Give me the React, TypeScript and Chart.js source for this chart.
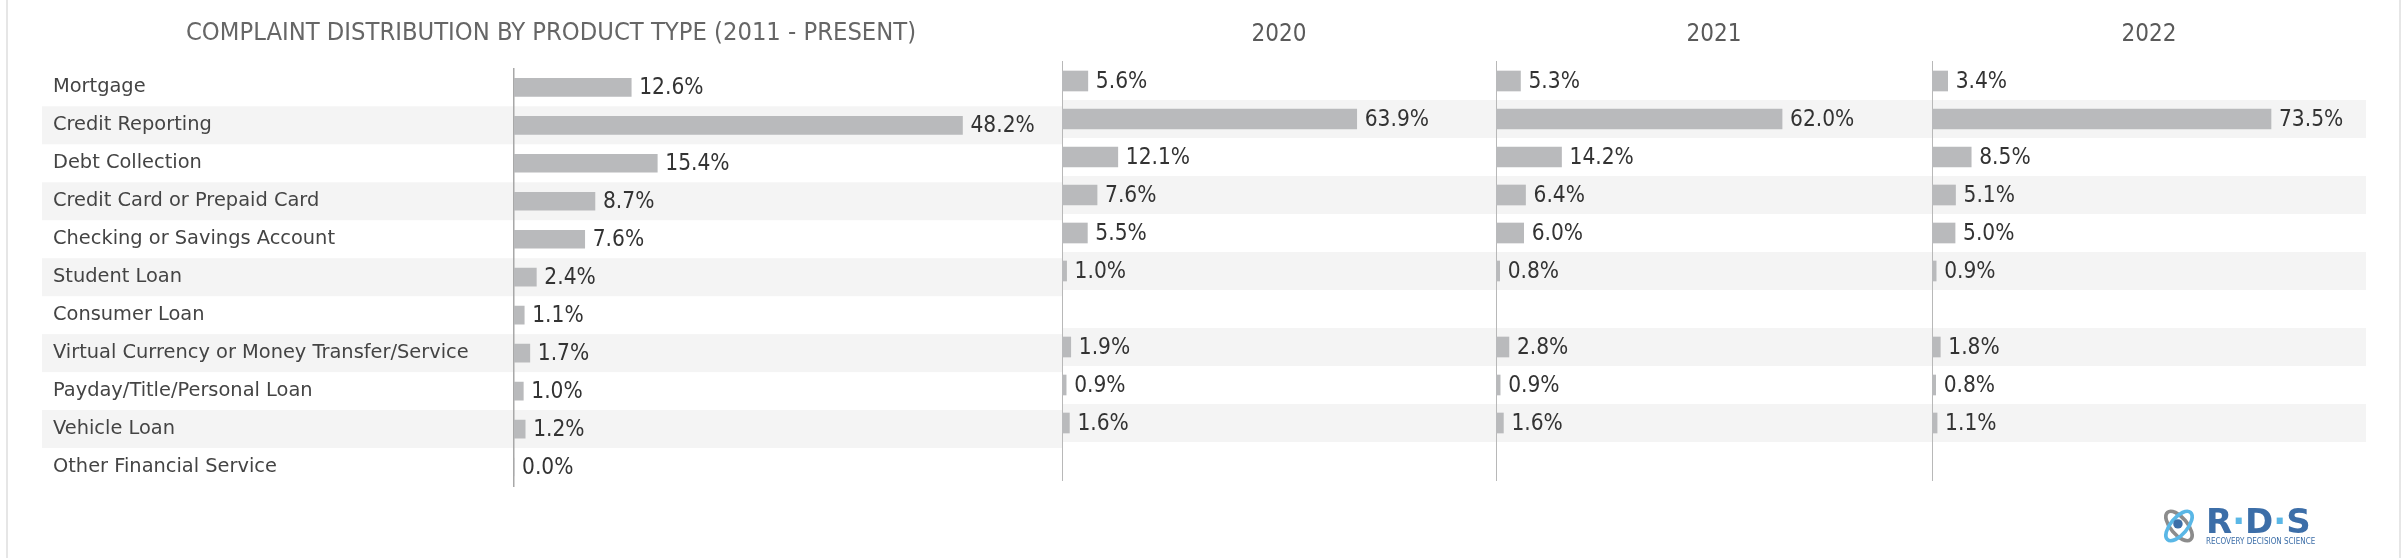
import React, { useEffect, useRef } from "react";
import { Chart, registerables } from "chart.js";

Chart.register(...registerables);

// ---------------- data ----------------
const categories = [
  "Mortgage",
  "Credit Reporting",
  "Debt Collection",
  "Credit Card or Prepaid Card",
  "Checking or Savings Account",
  "Student Loan",
  "Consumer Loan",
  "Virtual Currency or Money Transfer/Service",
  "Payday/Title/Personal Loan",
  "Vehicle Loan",
  "Other Financial Service",
];
const panelTitles = ["COMPLAINT DISTRIBUTION BY PRODUCT TYPE (2011 - PRESENT)", "2020", "2021", "2022"];
const valuesAll: (number | null)[] = [12.6, 48.2, 15.4, 8.7, 7.6, 2.4, 1.1, 1.7, 1.0, 1.2, 0.0];
const values2020: (number | null)[] = [5.6, 63.9, 12.1, 7.6, 5.5, 1.0, null, 1.9, 0.9, 1.6, null];
const values2021: (number | null)[] = [5.3, 62.0, 14.2, 6.4, 6.0, 0.8, null, 2.8, 0.9, 1.6, null];
const values2022: (number | null)[] = [3.4, 73.5, 8.5, 5.1, 5.0, 0.9, null, 1.8, 0.8, 1.1, null];

// ---------------- styling / layout ----------------
const FONT = "'DejaVu Sans Condensed', 'DejaVu Sans', sans-serif";
const LABEL_FONT = "'DejaVu Sans', sans-serif";
const BAR_COLOR = "#b9babc";
const STRIPE_COLOR = "#f4f4f4";

type Spec = {
  title: string;
  data: (number | null)[];
  left: number;
  width: number;
  xMax: number;
  first: boolean;
};

const specs: Spec[] = [
  { title: panelTitles[0], data: valuesAll, left: 40, width: 1022, xMax: 57.5, first: true },
  { title: panelTitles[1], data: values2020, left: 1062, width: 434, xMax: 94.1, first: false },
  { title: panelTitles[2], data: values2021, left: 1496, width: 436, xMax: 94.5, first: false },
  { title: panelTitles[3], data: values2022, left: 1932, width: 434, xMax: 94.1, first: false },
];

const stripePlugin = {
  id: "stripes",
  beforeDraw(chart: any, _args: any, opts: any) {
    const { ctx, chartArea, scales } = chart;
    const y = scales.y;
    const n = chart.data.labels.length;
    const h = (chartArea.bottom - chartArea.top) / n;
    ctx.save();
    ctx.fillStyle = STRIPE_COLOR;
    for (let i = 1; i < n; i += 2) {
      const c = y.getPixelForValue(i);
      ctx.fillRect(opts.x0 ?? 0, c - h / 2, chart.width - (opts.x0 ?? 0), h);
    }
    ctx.restore();
  },
};

const valueLabelPlugin = {
  id: "valueLabels",
  afterDatasetsDraw(chart: any) {
    const { ctx } = chart;
    const meta = chart.getDatasetMeta(0);
    const data = chart.data.datasets[0].data;
    ctx.save();
    ctx.font = `22.5px ${FONT}`;
    ctx.fillStyle = "#333333";
    ctx.textAlign = "left";
    ctx.textBaseline = "middle";
    meta.data.forEach((bar: any, i: number) => {
      const v = data[i];
      if (v === null || v === undefined) return;
      ctx.fillText(`${Number(v).toFixed(1)}%`, bar.x + 8, bar.y + 1);
    });
    ctx.restore();
  },
};

function Panel({ spec }: { spec: Spec }) {
  const ref = useRef<HTMLCanvasElement | null>(null);
  useEffect(() => {
    if (!ref.current) return;
    const first = spec.first;
    const chart = new Chart(ref.current, {
      type: "bar",
      data: {
        labels: categories,
        datasets: [
          {
            data: spec.data as any,
            backgroundColor: BAR_COLOR,
            borderWidth: 0,
            barThickness: first ? 18 : 20,
          },
        ],
      },
      options: {
        indexAxis: "y",
        animation: false,
        responsive: true,
        maintainAspectRatio: false,
        events: [],
        layout: {
          padding: first
            ? { top: 18, bottom: 72, left: 13, right: 13 }
            : { top: 20.6, bottom: 78, left: 0, right: 0 },
        },
        plugins: {
          legend: { display: false },
          tooltip: { enabled: false },
          title: {
            display: true,
            text: spec.title,
            color: first ? "#666666" : "#5a5a5a",
            font: { family: FONT, size: first ? 25.3 : 24, weight: "normal" },
            padding: { top: 0, bottom: first ? 20 : 12.6 },
          },
          stripes: { x0: first ? 2 : 0 },
        } as any,
        scales: {
          x: { display: false, min: 0, max: spec.xMax },
          y: {
            position: "left",
            grid: { display: false },
            border: { display: true, color: first ? "#a8a8a8" : "#b8b8b8", width: first ? 1.5 : 2 },
            ticks: {
              display: first,
              crossAlign: "far",
              padding: 0,
              color: "#444444",
              font: { family: LABEL_FONT, size: 19.4 },
            },
            afterFit: (scale: any) => {
              scale.width = first ? 461 : 0;
            },
          },
        },
      },
      plugins: [stripePlugin, valueLabelPlugin],
    });
    return () => chart.destroy();
  }, [spec]);
  return (
    <div style={{ position: "absolute", left: spec.left, top: 0, width: spec.width, height: 558 }}>
      <canvas ref={ref} />
    </div>
  );
}

function Logo() {
  return (
    <div style={{ position: "absolute", left: 2160, top: 504, width: 180, height: 44, display: "flex", alignItems: "center" }}>
      <svg width="38" height="42" viewBox="0 0 36 40" style={{ flexShrink: 0 }}>
        <ellipse cx="18" cy="20" rx="8" ry="17" transform="rotate(-40 18 20)" fill="none" stroke="#8c8c8c" strokeWidth="3.5" />
        <ellipse cx="18" cy="20" rx="8" ry="17" transform="rotate(40 18 20)" fill="none" stroke="#5ab7e6" strokeWidth="3.5" />
        <circle cx="17" cy="18" r="4.5" fill="#3c6ea8" />
      </svg>
      <div style={{ marginLeft: 8, display: "flex", flexDirection: "column", fontFamily: "'DejaVu Sans', sans-serif", flexShrink: 0 }}>
        <div style={{ fontSize: 34, fontWeight: 700, color: "#3c6ea8", lineHeight: "31px", letterSpacing: 0, whiteSpace: "nowrap" }}>
          R<span style={{ color: "#5ab7e6" }}>·</span>D<span style={{ color: "#5ab7e6" }}>·</span>S
        </div>
        <div style={{ fontSize: 8, color: "#3c6ea8", lineHeight: "10px", whiteSpace: "nowrap", fontFamily: "'DejaVu Sans Condensed', sans-serif" }}>
          RECOVERY DECISION SCIENCE
        </div>
      </div>
    </div>
  );
}

export default function App() {
  return (
    <div style={{ position: "absolute", left: 0, top: 0, width: 2406, height: 558, background: "#ffffff", overflow: "hidden" }}>
      <div style={{ position: "absolute", left: 6, top: 0, width: 2, height: 558, background: "#e6e6e6" }} />
      <div style={{ position: "absolute", left: 2399, top: 0, width: 2, height: 558, background: "#e6e6e6" }} />
      {specs.map((s) => (
        <Panel key={s.title} spec={s} />
      ))}
      <Logo />
    </div>
  );
}
